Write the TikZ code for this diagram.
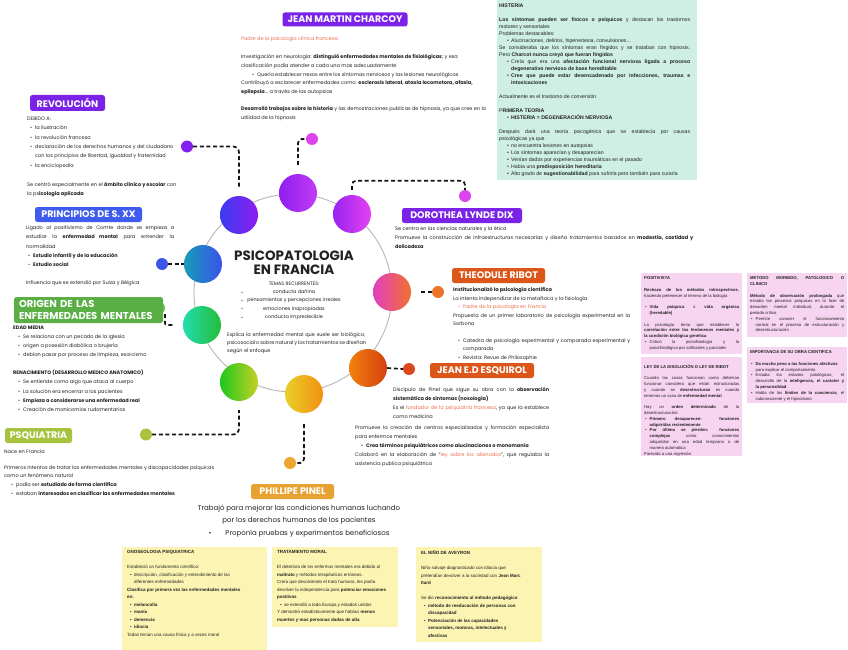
\documentclass[tikz,border=0pt]{standalone}
\usepackage{fontspec}
\setmainfont{Poppins}
\newfontfamily\ar{Liberation Sans}
\definecolor{ink}{HTML}{222222}
\definecolor{titc}{HTML}{222222}
\definecolor{purp}{HTML}{7A22E6}
\definecolor{blu}{HTML}{3F5CEF}
\definecolor{grn}{HTML}{5AAF44}
\definecolor{ygr}{HTML}{A7C23D}
\definecolor{ora}{HTML}{DC5519}
\definecolor{gold}{HTML}{E8A232}
\definecolor{salmon}{HTML}{EC6E4E}
\definecolor{mint}{HTML}{CFEFE5}
\definecolor{pinkb}{HTML}{F7D4F0}
\definecolor{yelb}{HTML}{FCF4B2}
\definecolor{ringc}{HTML}{B8B8B8}
\definecolor{dotpur}{HTML}{8420EE}
\definecolor{dotblu}{HTML}{3D56E8}
\definecolor{dotgrn}{HTML}{6BC24A}
\definecolor{dotygr}{HTML}{A9C43B}
\definecolor{dotmag}{HTML}{DD44EE}
\definecolor{dotora}{HTML}{E9752B}
\definecolor{dotred}{HTML}{D9491D}
\definecolor{dotgold}{HTML}{EEA530}
% bubble colours
\definecolor{aA}{HTML}{3A3CF2}\definecolor{aB}{HTML}{8E1EF0}
\definecolor{bA}{HTML}{8F1EF0}\definecolor{bB}{HTML}{C23CF6}
\definecolor{cA}{HTML}{9A22F0}\definecolor{cB}{HTML}{E443F2}
\definecolor{dA}{HTML}{169DB8}\definecolor{dB}{HTML}{3A52EA}
\definecolor{eA}{HTML}{E23FBE}\definecolor{eB}{HTML}{F0702E}
\definecolor{fA}{HTML}{22DDAE}\definecolor{fB}{HTML}{24BC3A}
\definecolor{gA}{HTML}{1FC81F}\definecolor{gB}{HTML}{C6D024}
\definecolor{hA}{HTML}{E8D02A}\definecolor{hB}{HTML}{F2900F}
\definecolor{iA}{HTML}{F2800F}\definecolor{iB}{HTML}{D4400E}
\newcommand\jl[2]{\makebox[#1][s]{#2}}
\newcommand\bu{\makebox[5pt][l]{\textbullet}}
\newcommand\bv{\makebox[4pt][l]{\textbullet}}
\newcommand\bw{\makebox[4.5pt][l]{\textbullet}}
\begin{document}
\begin{tikzpicture}[x=1pt,y=-1pt,
  body/.style={anchor=north west, inner sep=0pt, align=left, text=ink, font=\fontsize{5}{8.6}\selectfont},
  arb/.style={anchor=north west, inner sep=0pt, align=left, text=ink, font=\ar\fontsize{5.2}{7}\selectfont},
  pnk/.style={anchor=north west, inner sep=0pt, align=left, text=ink, font=\ar\fontsize{4.2}{5.8}\selectfont},
  yel/.style={anchor=north west, inner sep=0pt, align=left, text=ink, font=\ar\fontsize{4.5}{7.5}\selectfont},
  panel/.style={anchor=north west, inner sep=0pt},
  title/.style={rounded corners=2.5pt, text=white, inner sep=0pt, minimum height=15pt, font=\bfseries\fontsize{9.5}{11}\selectfont},
  bub/.style={circle, inner sep=0pt, minimum size=38pt},
  dot/.style={circle, inner sep=0pt, minimum size=12pt},
  conn/.style={draw=black!92, line width=1.7pt, dash pattern=on 4pt off 2.6pt}
]
\useasboundingbox (0,0) rectangle (848,650);
\fill[white] (0,0) rectangle (848,650);

% ---------- central ring ----------
\node[circle, draw=ringc, line width=0.9pt, minimum size=198pt, inner sep=0pt] (ring) at (293,293) {};

% ---------- bubbles ----------
\node[bub, left color=aA, right color=aB] (c1) at (239,215) {};
\node[bub, left color=bA, right color=bB] (c2) at (298,193) {};
\node[bub, left color=cA, right color=cB] (c3) at (352,214) {};
\node[bub, left color=dA, right color=dB] (c4) at (203,264) {};
\node[bub, left color=eA, right color=eB] (c5) at (392,292) {};
\node[bub, left color=fA, right color=fB] (c6) at (202,325) {};
\node[bub, left color=gA, right color=gB] (c7) at (239,382) {};
\node[bub, left color=hA, right color=hB] (c8) at (304,394) {};
\node[bub, left color=iA, right color=iB] (c9) at (368,368) {};

% ---------- dots ----------
\node[dot, fill=dotpur] (revdot) at (187,146.5) {};
\node[dot, fill=dotmag] (chdot) at (312,139) {};
\node[dot, fill=dotmag] (dordot) at (465,196) {};
\node[dot, fill=dotblu] (pridot) at (162,264) {};
\node[dot, fill=dotgrn] (oridot) at (159,308) {};
\node[dot, fill=dotygr] (psqdot) at (146,434.5) {};
\node[dot, fill=dotgold] (pindot) at (290,463) {};
\node[dot, fill=dotora] (ribdot) at (438,292) {};
\node[dot, fill=dotred] (esqdot) at (409,369) {};

% ---------- connectors ----------
\draw[conn, rounded corners=6pt, shorten >=9pt] (revdot.east) -| (c1.north);
\draw[conn, rounded corners=4pt, shorten <=9pt] (c2.north) |- (chdot.west);
\draw[conn, rounded corners=4pt] ([yshift=5pt]c3.north) |- ([yshift=9pt]dordot.north) -- (dordot.north);
\draw[conn] (pridot.east) -- (c4.west);
\draw[conn, rounded corners=2pt, shorten >=10pt] ([xshift=6pt]oridot.south) |- (c6.west);
\draw[conn, rounded corners=6pt, shorten >=9pt] (psqdot.east) -| (c7.south);
\draw[conn, rounded corners=4pt, shorten <=11pt] (c8.south) |- (pindot.east);
\draw[conn, shorten <=10pt] (c5.east) -- (ribdot.west);
\draw[conn] (c9.east) -- (esqdot.west);

% ---------- centre texts ----------
\node[text=titc, align=center, inner sep=0pt, font=\bfseries\fontsize{13.5}{14.3}\selectfont] (ctitle) at (294,263) {PSICOPATOLOGIA\\EN FRANCIA};
\node[anchor=north, inner sep=0pt, align=center, text=ink, font=\fontsize{4.9}{8.3}\selectfont] (temas) at (294,281.7) {TEMAS RECURRENTES:\\conducta dañina\\pensamientos y percepciones irreales\\emociones inapropiadas\\conducta impredecible};
\node[body, font=\fontsize{4.9}{8.3}\selectfont] (tbul) at (241,290.4) {\vphantom{l}\textbullet\\\textbullet\\\textbullet\\\textbullet};
\node[body, font=\fontsize{5}{8}\selectfont] (expl) at (227,332.6) {\jl{138pt}{Explica la enfermedad mental que suele ser biológico,}\\\jl{138pt}{psicosocial o sobre natural y los tratamientos se diseñan}\\según el enfoque};

% ---------- JEAN MARTIN CHARCOY ----------
\node[title, fill=purp, minimum width=125pt, minimum height=14pt] (charcot) at (345,19.5) {JEAN MARTIN CHARCOY};
\node[body, text=salmon] (chpadre) at (241,36.6) {Padre de la psicología clínica francesa};
\node[body] (chtxt) at (241,54.6) {Investigación en neurología: \textbf{distinguió enfermedades mentales de fisiológicas}; y esa\\
clasificación podía atender a cada una mas adecuadamente\\
\hspace*{11pt}\bu Quería establecer nexos entre los síntomas nerviosos y las lesiones neurológicas\\
Contribuyó a esclarecer enfermedades como: \textbf{esclerosis lateral, ataxia locomotora, afasia,}\\
\textbf{epilepsia}... a través de las autopsias\\[8.6pt]
\textbf{Desarrolló trabajos sobre la historia} y las demostraciones publicas de hipnosis, ya que cree en la\\
utilidad de la hipnosis};

% ---------- HISTERIA ----------
\node[panel, fill=mint, minimum width=200pt, minimum height=180pt] (histbox) at (497,0) {};
\node[arb] (histtxt) at (499,3.6) {\textbf{HISTERIA}\\[7pt]
\jl{191pt}{\textbf{Los síntomas pueden ser físicos o psíquicos} y destacan los trastornos}\\
motores y sensoriales\\
Problemas destacables:\\
\hspace*{8pt}\bv Alucinaciones, delirios, hiperestesia, convulsiones...\\
\jl{191pt}{Se consideraba que los síntomas eran fingidos y se trataban con hipnosis.}\\
Pero \textbf{Charcot nunca creyó que fueran fingidos}\\
\hspace*{8pt}\bv\jl{179pt}{Creía que era una \textbf{afectación funcional nerviosa ligada a proceso}}\\
\hspace*{12pt}\textbf{degenerativo nervioso de base hereditable}\\
\hspace*{8pt}\bv\jl{179pt}{\textbf{Cree que puede estar desencadenado por infecciones, traumas e}}\\
\hspace*{12pt}\textbf{intoxicaciones}\\[7pt]
Actualmente es el trastorno de conversión\\[7pt]
P\textbf{RIMERA TEORIA}\\
\hspace*{8pt}\bv\textbf{HISTERIA = DEGENERACIÓN NERVIOSA}\\[7pt]
\jl{191pt}{Después dará una teoría psicogénica que se establecía por causas}\\
psicológicas ya que\\
\hspace*{8pt}\bv no encuentra lesiones en autopsias\\
\hspace*{8pt}\bv Los síntomas aparecían y desaparecían\\
\hspace*{8pt}\bv Venían dados por experiencias traumáticas en el pasado\\
\hspace*{8pt}\bv Había una \textbf{predisposición hereditaria}\\
\hspace*{8pt}\bv Alto grado de \textbf{sugestionabilidad} para sufrirla pero también para curarla};

% ---------- REVOLUCION ----------
\node[title, fill=purp, minimum width=75pt, minimum height=16pt] (revol) at (67.5,103) {REVOLUCIÓN};
\node[body, font=\fontsize{5}{9.4}\selectfont] (revtxt) at (27,116.6) {DEBIDO A:\\
\hspace*{3pt}\bu la ilustración\\
\hspace*{3pt}\bu la revolución francesa\\
\hspace*{3pt}\bu declaración de los derechos humanos y del ciudadano\\
\hspace*{8pt}con los principios de libertad, igualdad y fraternidad\\
\hspace*{3pt}\bu la enciclopedia\\[9.4pt]
Se centró especialmente en el \textbf{ámbito clínico y escolar} con\\
la ps\textbf{icología aplicada}};

% ---------- PRINCIPIOS ----------
\node[title, fill=blu, minimum width=107pt] (princ) at (88.5,214.5) {PRINCIPIOS DE S. XX};
\node[body, font=\fontsize{5}{9.2}\selectfont] (printxt) at (26,225.6) {\jl{148pt}{Ligado al positivismo de Comte donde se empieza a}\\
\jl{148pt}{estudiar la \textbf{enfermedad mental} para entender la}\\
normalidad\\
\hspace*{2pt}\bu\textbf{Estudio infantil y de la educación}\\
\hspace*{2pt}\bu\textbf{Estudio social}\\[9.2pt]
Influencia que se extendió por Suiza y Bélgica};

% ---------- ORIGEN ----------
\node[title, fill=grn, minimum width=149pt, minimum height=26pt, text width=139pt, align=left, font=\bfseries\fontsize{10}{11.5}\selectfont] (origen) at (88.5,310) {ORIGEN DE LAS\\ENFERMEDADES MENTALES};
\node[body, font=\fontsize{5}{9.1}\selectfont] (oritxt) at (13,325.6) {\textbf{EDAD MEDIA}\\
\hspace*{5pt}\bu Se relaciona con un pecado de la iglesia\\
\hspace*{5pt}\bu origen a posesión diabólica o brujería\\
\hspace*{5pt}\bu debían pasar por proceso de limpieza, exorcismo\\[9.1pt]
\textbf{RENACIMIENTO (DESARROLLO MEDICO ANATOMICO)}\\
\hspace*{5pt}\bu Se entiende como algo que ataca al cuerpo\\
\hspace*{5pt}\bu La solución era encerrar a los pacientes\\
\hspace*{5pt}\bu\textbf{Empieza a considerarse una enfermedad real}\\
\hspace*{5pt}\bu Creación de manicomios rudamentarios};

% ---------- PSQUIATRIA ----------
\node[title, fill=ygr, minimum width=67pt] (psq) at (38.5,435.5) {PSQUIATRIA};
\node[body] (psqnace) at (4,449.6) {Nace en Francia};
\node[body, font=\fontsize{5}{8.8}\selectfont] (psqtxt) at (4,465) {Primeros intentos de tratar las enfermedades mentales y discapacidades psíquicas\\
como un fenómeno natural\\
\hspace*{7pt}\bu podía ser \textbf{estudiado de forma científica}\\
\hspace*{7pt}\bu estaban \textbf{interesados en clasificar las enfermedades mentales}};

% ---------- DOROTHEA ----------
\node[title, fill=purp, minimum width=120pt] (dorothea) at (462,215.5) {DOROTHEA LYNDE DIX};
\node[body, font=\fontsize{5}{8.7}\selectfont] (dortxt) at (395,226.6) {Se centra en las ciencias naturales y la ética\\
\jl{298pt}{Promueve la construcción de infraestructuras necesarias y diseña tratamientos basados en \textbf{modestia, castidad y}}\\
\textbf{delicadeza}};

% ---------- RIBOT ----------
\node[title, fill=ora, minimum width=93pt] (ribot) at (498.5,275.5) {THEODULE RIBOT};
\node[body, font=\fontsize{5}{8.4}\selectfont] (ribtxt) at (453,287.6) {\textbf{Institucionalizó la psicología científica}\\
La intenta independizar de la metafísica y la fisiología\\
\hspace*{5pt}{\color{salmon}\bu Padre de la psicología en Francia}\\
\jl{177pt}{Propuesta de un primer laboratorio de psicología experimental en la}\\
Sorbona\\[8.4pt]
\hspace*{5pt}\bu\jl{167pt}{Catedra de psicología experimental y comparada experimental y}\\
\hspace*{10pt}comparada\\
\hspace*{5pt}\bu Revista: Revue de Philosophie};

% ---------- ESQUIROL ----------
\node[title, fill=ora, minimum width=104pt] (esquirol) at (482,370.5) {JEAN E.D ESQUIROL};
\node[body, font=\fontsize{5}{8.8}\selectfont] (esqtxt) at (393,387.6) {\jl{156pt}{Discípulo de Pinel que sigue su obra con la \textbf{observación}}\\
\textbf{sistemática de síntomas (nosología)}\\
\jl{156pt}{Es el {\color{salmon}fundador de la psiquiatría francesa}, ya que la establece}\\
como medicina};
\node[body, font=\fontsize{5}{9}\selectfont] (esqtxt2) at (355,425.6) {\jl{194pt}{Promueve la creación de centros especializados y formación especialista}\\
para enfermos mentales\\
\hspace*{6pt}\bu\textbf{Crea términos psiquiátricos como alucinaciones o monomanía}\\
\jl{194pt}{Colaboró en la elaboración de “{\color{salmon}ley sobre los alienados}”, que regulaba la}\\
asistencia publica psiquiátrica};

% ---------- PINEL ----------
\node[title, fill=gold, minimum width=83pt] (pinel) at (292.5,491.5) {PHILLIPE PINEL};
\node[anchor=north, inner sep=0pt, align=center, text=ink, font=\fontsize{7}{12.5}\selectfont] (pintxt) at (299,504.7) {Trabajó para mejorar las condiciones humanas luchando\\
por los derechos humanos de los pacientes\\
\textbullet\hspace{14pt}Proponía pruebas y experimentos beneficiosos};

% ---------- pink panels ----------
\node[panel, fill=pinkb, minimum width=101pt, minimum height=81pt] (posbox) at (641,273) {};
\node[pnk] (postxt) at (644,276.6) {\textbf{POSITIVISTA}\\[5.8pt]
\jl{95pt}{\textbf{Rechazo de los métodos introspectivos},}\\
haciendo pertenecer al terreno de la biología\\[5.8pt]
\hspace*{1pt}\bw\jl{89.5pt}{\textbf{Vida psíquica = vida orgánica}}\\
\hspace*{5.5pt}\textbf{(heredable)}\\[5.8pt]
\jl{95pt}{La psicología tenía que establecer la}\\
\jl{95pt}{\textbf{correlación entre los fenómenos mentales y}}\\
\textbf{la condición biológica genética}\\
\hspace*{1pt}\bw\jl{89.5pt}{Criticó la psicofisiología y la}\\
\hspace*{5.5pt}psicofisiológica por artificiales y parciales};

\node[panel, fill=pinkb, minimum width=101pt, minimum height=99pt] (leybox) at (641,357) {};
\node[pnk] (leytxt) at (644,364.1) {\textbf{LEY DE LA DISOLUCIÓN O LEY DE RIBOT}\\[5.8pt]
\jl{95pt}{Cuando las cosas funcionan como deberían}\\
\jl{95pt}{funcionar considera que están estructuradas}\\
\jl{95pt}{y cuando se \textbf{desestructuran} es cuando}\\
tenemos un caso de \textbf{enfermedad mental}\\[5.8pt]
\jl{95pt}{Hay un \textbf{orden determinado} de la}\\
desestructuración:\\
\hspace*{1pt}\bw\jl{89.5pt}{\textbf{Primero desaparecen: funciones}}\\
\hspace*{5.5pt}\textbf{adquiridas recientemente}\\
\hspace*{1pt}\bw\jl{89.5pt}{\textbf{Por último se pierden: funciones}}\\
\hspace*{5.5pt}\jl{89.5pt}{\textbf{complejas} como conocimientos}\\
\hspace*{5.5pt}\jl{89.5pt}{adquiridos en una edad temprana o de}\\
\hspace*{5.5pt}manera automática\\
Parecido a una regresión};

\node[panel, fill=pinkb, minimum width=100pt, minimum height=64pt] (metbox) at (747,273) {};
\node[pnk] (mettxt) at (750,276.6) {\jl{94pt}{\textbf{METODO MORBIDO, PATOLOGICO O}}\\
\textbf{CLINICO}\\[5.8pt]
\jl{94pt}{\textbf{Método de observación prolongada} que}\\
\jl{94pt}{estudia los procesos psíquicos en la fase de}\\
\jl{94pt}{desorden mental individual, durante el}\\
periodo crítico\\
\hspace*{1pt}\bw\jl{88.5pt}{Permite conocer el funcionamiento}\\
\hspace*{5.5pt}\jl{88.5pt}{normal en el proceso de estructuración y}\\
\hspace*{5.5pt}desestructuración};

\node[panel, fill=pinkb, minimum width=100pt, minimum height=56pt] (impbox) at (747,347) {};
\node[pnk] (imptxt) at (750,350.6) {\textbf{IMPORTANCIA DE SU OBRA CIENTIFICA}\\[5.8pt]
\hspace*{1pt}\bw\textbf{Da mucho peso a las funciones afectivas}\\
\hspace*{5.5pt}para explicar el comportamiento\\
\hspace*{1pt}\bw\jl{88.5pt}{Estudia los estados patológicos, el}\\
\hspace*{5.5pt}\jl{88.5pt}{desarrollo de la \textbf{inteligencia, el carácter y}}\\
\hspace*{5.5pt}\textbf{la personalidad}\\
\hspace*{1pt}\bw\jl{88.5pt}{Habla de los \textbf{límites de la conciencia}, el}\\
\hspace*{5.5pt}subconsciente y el hipnotismo};

% ---------- yellow panels ----------
\node[panel, fill=yelb, minimum width=145pt, minimum height=103pt] (gnobox) at (122,547) {};
\node[yel] (gnotxt) at (127,550.4) {\textbf{GNOSEOLOGIA PSIQUIATRICA}\\[7.5pt]
Estableció un fundamento científico:\\
\hspace*{3pt}\bv descripción, clasificación y entendimiento de las\\
\hspace*{7pt}diferentes enfermedades\\
\textbf{Clasifica por primera vez las enfermedades mentales}\\
\textbf{en:}\\
\hspace*{3pt}\bv\textbf{melancolía}\\
\hspace*{3pt}\bv\textbf{manía}\\
\hspace*{3pt}\bv\textbf{demencia}\\
\hspace*{3pt}\bv\textbf{idiocia}\\
Todas tenían una causa física y a veces moral};

\node[panel, fill=yelb, minimum width=126pt, minimum height=80pt] (tratbox) at (272,547) {};
\node[yel] (trattxt) at (277,550.4) {\textbf{TRATAMIENTO MORAL}\\[7.5pt]
El deterioro de los enfermos mentales era debido al\\
\textbf{maltrato} y métodos terapéuticos erróneos.\\
Creía que devolviendo el trato humano, les podía\\
devolver la independencia para \textbf{potenciar emociones}\\
\textbf{positivas}\\
\hspace*{3pt}\bv se extendió a toda Europa y estados unidos\\
Y demostró estadísticamente que habían \textbf{menos}\\
\textbf{muertes y mas personas dadas de alta}};

\node[panel, fill=yelb, minimum width=126pt, minimum height=95pt] (ninbox) at (416,547) {};
\node[yel] (nintxt) at (421,550.4) {\textbf{EL NIÑO DE AVEYRON}\\[7.5pt]
Niño salvaje diagnosticado con idiocia que\\
pretendían devolver a la sociedad con \textbf{Jean Marc}\\
\textbf{Itard}\\[7.5pt]
Se dio \textbf{reconocimiento al método pedagógico}\\
\hspace*{3pt}\bv\textbf{método de reeducación de personas con}\\
\hspace*{7pt}\textbf{discapacidad}\\
\hspace*{3pt}\bv\textbf{Potenciación de las capacidades}\\
\hspace*{7pt}\textbf{sensoriales, motoras, intelectuales y}\\
\hspace*{7pt}\textbf{afectivas}};
\end{tikzpicture}
\end{document}
